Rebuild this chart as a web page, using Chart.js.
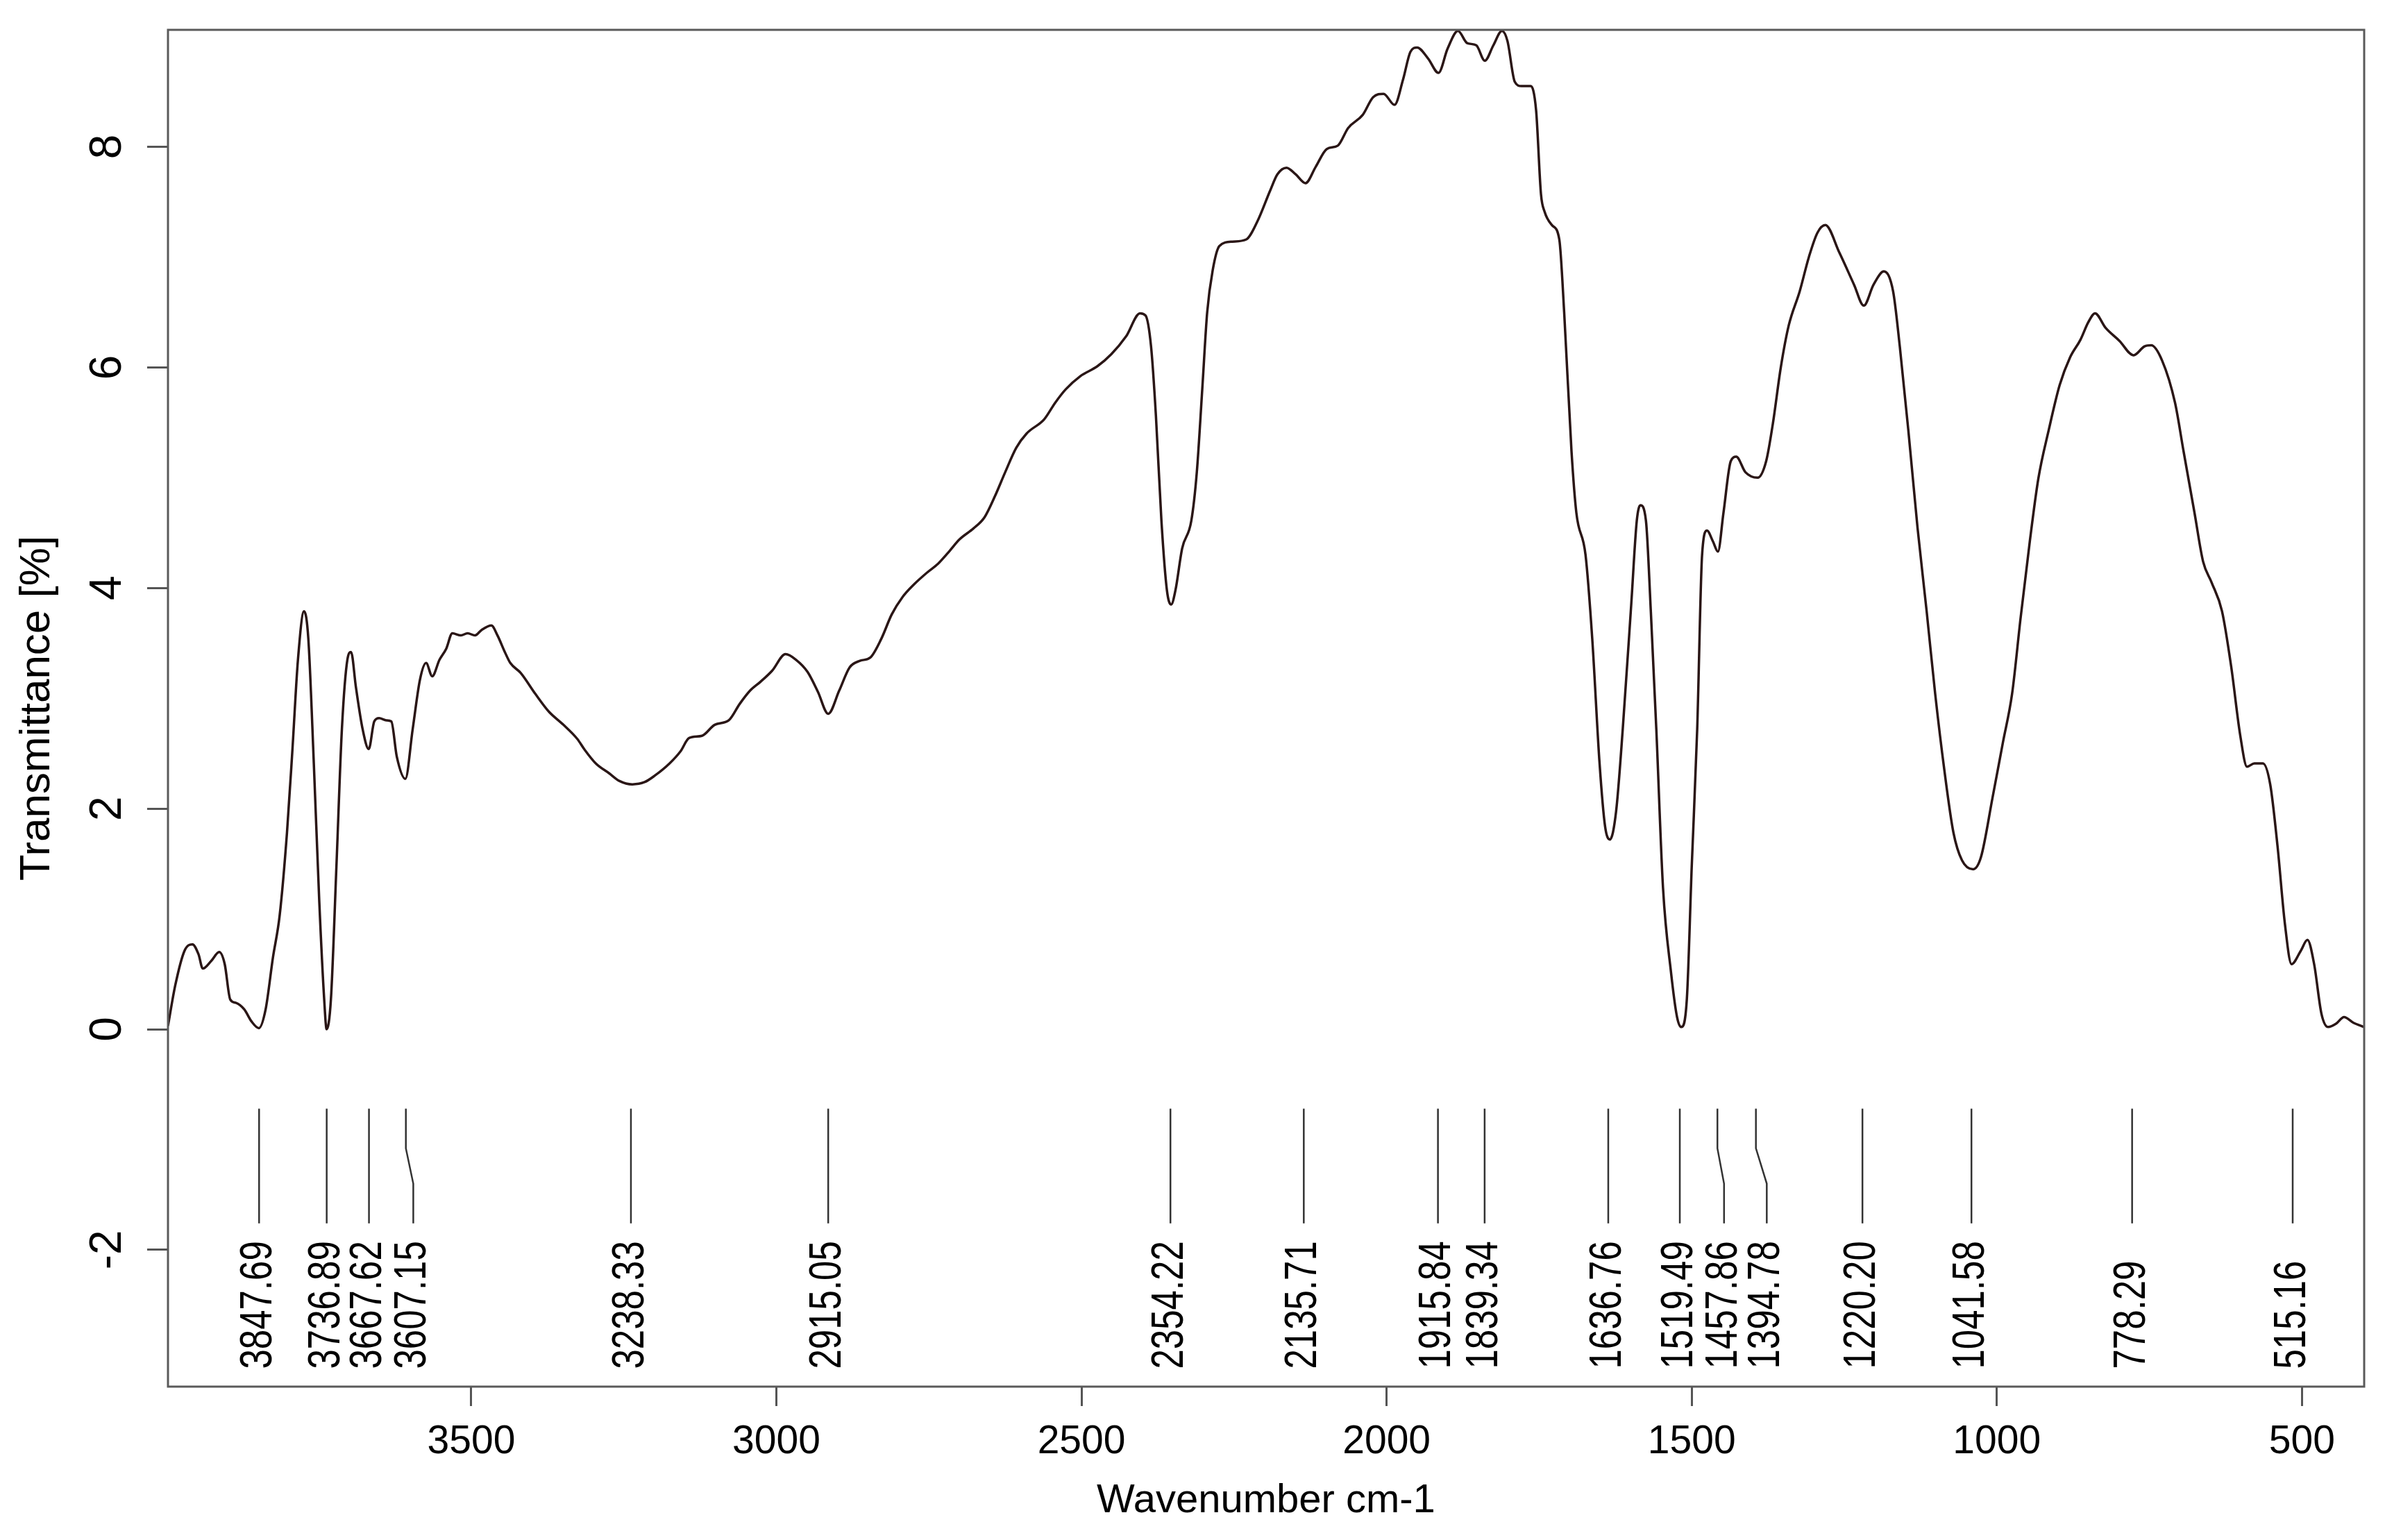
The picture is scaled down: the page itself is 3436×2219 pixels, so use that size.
<!DOCTYPE html>
<html lang="en">
<head>
<meta charset="UTF-8">
<title>FTIR spectrum</title>
<style>
  html, body { margin: 0; padding: 0; background: #fff; }
  canvas { display: block; }
</style>
</head>
<body>
<canvas id="myCanvas" width="3436" height="2219"></canvas>
<script src="https://cdn.jsdelivr.net/npm/chart.js@4.4.1/dist/chart.umd.min.js"></script>
<script>
// spectrum, high to low wavenumber
var wavenumbers = [
  3997, 3985, 3970, 3957, 3947, 3940, 3926, 3913, 3904, 3895,
  3886, 3872, 3860, 3848, 3837, 3825, 3814, 3802, 3793, 3784,
  3774, 3767, 3758, 3749, 3741, 3737, 3730, 3721, 3712, 3703,
  3697, 3689, 3678, 3668, 3659, 3651, 3639, 3631, 3622, 3608,
  3596, 3584, 3574, 3564, 3552, 3541, 3531, 3517, 3506, 3494,
  3483, 3467, 3457, 3445, 3436, 3419, 3395, 3373, 3349, 3326,
  3315, 3296, 3274, 3257, 3236, 3216, 3199, 3175, 3157, 3143,
  3122, 3101, 3078, 3060, 3043, 3026, 3007, 2985, 2968, 2949,
  2932, 2915, 2897, 2880, 2863, 2846, 2828, 2811, 2793, 2775,
  2753, 2735, 2717, 2700, 2677, 2659, 2642, 2625, 2607, 2590,
  2561, 2543, 2526, 2502, 2474, 2451, 2427, 2404, 2395, 2386,
  2378, 2369, 2360, 2353, 2346, 2335, 2320, 2311, 2302, 2294,
  2285, 2274, 2253, 2230, 2212, 2191, 2179, 2164, 2149, 2133,
  2116, 2098, 2080, 2063, 2039, 2022, 2005, 1987, 1973, 1961,
  1950, 1932, 1915, 1900, 1883, 1868, 1853, 1839, 1825, 1811,
  1802, 1790, 1779, 1764, 1755, 1747, 1741, 1729, 1717, 1709,
  1697, 1689, 1674, 1663, 1651, 1642, 1634, 1624, 1613, 1599,
  1590, 1584, 1575, 1567, 1558, 1547, 1534, 1524, 1517, 1508,
  1500, 1491, 1483, 1475, 1465, 1457, 1448, 1436, 1427, 1412,
  1392, 1378, 1367, 1354, 1341, 1323, 1308, 1294, 1281, 1258,
  1234, 1218, 1202, 1185, 1170, 1159, 1145, 1130, 1115, 1101,
  1086, 1071, 1057, 1039, 1026, 1007, 990, 975, 961, 946,
  932, 915, 897, 880, 863, 850, 839, 822, 799, 776,
  758, 747, 729, 708, 694, 676, 662, 648, 631, 616,
  601, 590, 578, 564, 552, 540, 528, 517, 502, 491,
  480, 468, 457, 444, 431, 416, 398
];
var transmittance = [
  0.03, 0.40, 0.71, 0.77, 0.68, 0.55, 0.62, 0.70, 0.59, 0.27,
  0.24, 0.18, 0.07, 0.01, 0.18, 0.65, 1.03, 1.78, 2.54, 3.35,
  3.79, 3.54, 2.41, 1.15, 0.27, 0.00, 0.27, 1.47, 2.72, 3.35,
  3.42, 3.10, 2.72, 2.54, 2.79, 2.82, 2.80, 2.79, 2.47, 2.27,
  2.72, 3.17, 3.32, 3.20, 3.35, 3.45, 3.59, 3.57, 3.59, 3.57,
  3.62, 3.66, 3.57, 3.42, 3.32, 3.23, 3.04, 2.88, 2.76, 2.63,
  2.54, 2.41, 2.32, 2.25, 2.22, 2.24, 2.30, 2.41, 2.52, 2.64,
  2.66, 2.76, 2.80, 2.95, 3.07, 3.15, 3.25, 3.40, 3.35, 3.24,
  3.06, 2.86, 3.07, 3.28, 3.34, 3.37, 3.54, 3.76, 3.92, 4.03,
  4.14, 4.22, 4.33, 4.44, 4.54, 4.64, 4.83, 5.05, 5.27, 5.40,
  5.53, 5.68, 5.80, 5.92, 6.01, 6.12, 6.28, 6.49, 6.47, 6.19,
  5.56, 4.61, 3.98, 3.85, 3.98, 4.36, 4.61, 5.05, 5.81, 6.50,
  6.88, 7.10, 7.14, 7.16, 7.32, 7.60, 7.75, 7.81, 7.75, 7.67,
  7.82, 7.98, 8.01, 8.17, 8.29, 8.45, 8.48, 8.38, 8.61, 8.86,
  8.90, 8.80, 8.67, 8.89, 9.05, 8.94, 8.92, 8.78, 8.92, 9.05,
  8.96, 8.59, 8.55, 8.55, 8.33, 7.57, 7.41, 7.29, 7.16, 6.50,
  5.24, 4.68, 4.30, 3.54, 2.41, 1.84, 1.72, 1.97, 2.72, 3.86,
  4.61, 4.75, 4.61, 3.79, 2.72, 1.28, 0.52, 0.11, 0.02, 0.27,
  1.47, 2.72, 4.30, 4.52, 4.42, 4.33, 4.68, 5.15, 5.19, 5.05,
  5.00, 5.15, 5.49, 6.00, 6.38, 6.69, 7.00, 7.22, 7.29, 7.04,
  6.75, 6.56, 6.75, 6.87, 6.69, 6.19, 5.43, 4.55, 3.79, 3.04,
  2.35, 1.78, 1.53, 1.45, 1.56, 2.10, 2.60, 3.04, 3.73, 4.42,
  4.99, 5.43, 5.84, 6.09, 6.25, 6.41, 6.49, 6.36, 6.24, 6.11,
  6.19, 6.20, 6.06, 5.68, 5.24, 4.68, 4.24, 4.05, 3.79, 3.29,
  2.66, 2.38, 2.41, 2.41, 2.22, 1.66, 0.96, 0.59, 0.71, 0.81,
  0.59, 0.14, 0.02, 0.05, 0.11, 0.06, 0.02
];

// labelled peaks; a few labels are nudged sideways to keep them apart
var peakLabels = ['3847.69', '3736.89', '3667.62', '3607.15', '3238.33', '2915.05',
  '2354.22', '2135.71', '1915.84', '1839.34', '1636.76', '1519.49', '1457.86',
  '1394.78', '1220.20', '1041.58', '778.29', '515.16'];
var peakPositions = [3847.69, 3736.89, 3667.62, 3607.15, 3238.33, 2915.05,
  2354.22, 2135.71, 1915.84, 1839.34, 1636.76, 1519.49, 1457.86,
  1394.78, 1220.20, 1041.58, 778.29, 515.16];
var labelPositions = [3847.69, 3736.89, 3667.62, 3595, 3238.33, 2915.05,
  2354.22, 2135.71, 1915.84, 1839.34, 1636.76, 1519.49, 1447,
  1377, 1220.20, 1041.58, 778.29, 515.16];

var xTicks = [3500, 3000, 2500, 2000, 1500, 1000, 500];
var yTicks = [-2, 0, 2, 4, 6, 8];

// marker segment heights (in y units)
var markTop = -0.72, bendTop = -1.08, bendBottom = -1.40, markBottom = -1.76;
var labelBase = -3.08;

var fontFamily = '"Liberation Sans", Arial, sans-serif';

function markerPoints() {
    var pts = [];
    for (var i = 0; i < peakPositions.length; i++) {
        var p = peakPositions[i], q = labelPositions[i];
        pts.push({x: p, y: markTop});
        pts.push({x: p, y: bendTop});
        pts.push({x: q, y: bendBottom});
        pts.push({x: q, y: markBottom});
        pts.push({x: q, y: null});
    }
    return pts;
}

var framePlugin = {
    id: 'frame',
    afterDatasetsDraw: function(chart) {
        var a = chart.chartArea, ctx = chart.ctx;
        ctx.save();
        ctx.strokeStyle = '#5a5a5a';
        ctx.lineWidth = 3;
        ctx.strokeRect(a.left, a.top, a.right - a.left, a.bottom - a.top);
        ctx.restore();
    }
};

var peakTextPlugin = {
    id: 'peakText',
    afterDatasetsDraw: function(chart) {
        var ctx = chart.ctx, xs = chart.scales.x, ys = chart.scales.y;
        var y0 = ys.getPixelForValue(labelBase);
        ctx.save();
        ctx.fillStyle = '#000';
        ctx.font = '51px ' + fontFamily;
        ctx.textAlign = 'left';
        ctx.textBaseline = 'middle';
        for (var i = 0; i < peakLabels.length; i++) {
            ctx.save();
            ctx.translate(xs.getPixelForValue(labelPositions[i]), y0);
            ctx.rotate(-Math.PI / 2);
            ctx.scale(1, 1.27);
            ctx.fillText(peakLabels[i], 0, 0);
            ctx.restore();
        }
        ctx.restore();
    }
};

var spectrum = wavenumbers.map(function(w, i) { return {x: w, y: transmittance[i]}; });

var ctx = document.getElementById('myCanvas').getContext('2d');
var chart = new Chart(ctx, {
    type: 'line',
    data: {
        datasets: [
            {
                label: 'Transmittance',
                data: spectrum,
                borderColor: '#2a1616',
                borderWidth: 3.5,
                pointRadius: 0,
                cubicInterpolationMode: 'monotone',
                fill: false
            },
            {
                label: 'Peaks',
                data: markerPoints(),
                borderColor: '#333333',
                borderWidth: 2.5,
                pointRadius: 0,
                tension: 0,
                spanGaps: false,
                fill: false
            }
        ]
    },
    options: {
        responsive: false,
        animation: false,
        devicePixelRatio: 1,
        layout: {padding: {left: 0, top: 43, right: 30, bottom: 0}},
        plugins: {
            legend: {display: false},
            tooltip: {enabled: false}
        },
        scales: {
            x: {
                type: 'linear',
                reverse: true,
                min: 398,
                max: 3997,
                afterBuildTicks: function(s) { s.ticks = xTicks.map(function(v) { return {value: v}; }); },
                afterFit: function(s) { s.height = 221; s.paddingLeft = 0; s.paddingRight = 0; },
                border: {display: false},
                grid: {drawOnChartArea: false, drawTicks: true, tickLength: 28, color: '#555555', lineWidth: 3},
                ticks: {
                    autoSkip: false, maxRotation: 0, padding: 18, color: '#000',
                    font: {family: fontFamily, size: 57},
                    callback: function(v) { return String(v); }
                },
                title: {
                    display: true, text: 'Wavenumber cm-1', color: '#000',
                    font: {family: fontFamily, size: 58},
                    padding: {top: 0, bottom: 21}
                }
            },
            y: {
                type: 'linear',
                min: -3.24,
                max: 9.06,
                afterBuildTicks: function(s) { s.ticks = yTicks.map(function(v) { return {value: v}; }); },
                afterFit: function(s) { s.width = 242; s.paddingTop = 0; s.paddingBottom = 0; },
                border: {display: false},
                grid: {drawOnChartArea: false, drawTicks: true, tickLength: 30, color: '#555555', lineWidth: 3},
                ticks: {
                    minRotation: 90, maxRotation: 90, crossAlign: 'center', padding: 27, color: '#000',
                    font: {family: fontFamily, size: 64},
                    callback: function(v) { return String(v); }
                },
                title: {
                    display: true, text: 'Transmittance [%]', color: '#000',
                    font: {family: fontFamily, size: 62},
                    padding: {top: 17, bottom: 0}
                }
            }
        }
    },
    plugins: [framePlugin, peakTextPlugin]
});
</script>
</body>
</html>
